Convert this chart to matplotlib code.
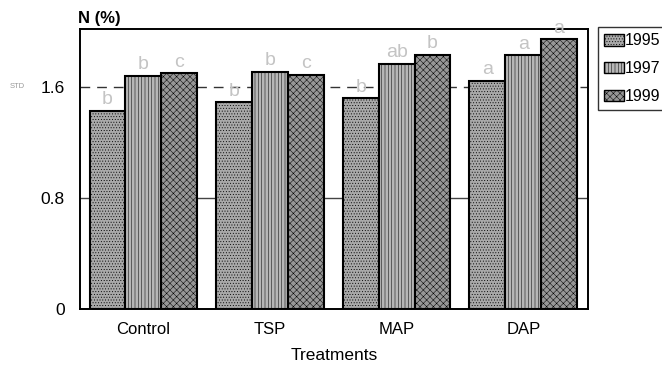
import matplotlib
matplotlib.use("Agg")
import matplotlib.pyplot as plt
import numpy as np
from matplotlib.patches import Patch

plt.rcParams['font.family'] = ['Liberation Sans', 'DejaVu Sans']
plt.rcParams['hatch.linewidth'] = 0.35

treatments = ["Control", "TSP", "MAP", "DAP"]
years = ["1995", "1997", "1999"]
n_1995 = [1.43, 1.49, 1.52, 1.645]
n_1997 = [1.68, 1.71, 1.77, 1.83]
n_1999 = [1.70, 1.69, 1.835, 1.945]
letters_1995 = ["b", "b", "b", "a"]
letters_1997 = ["b", "b", "ab", "a"]
letters_1999 = ["c", "c", "b", "a"]
std_level = 1.6
yticks = [0, 0.8, 1.6]
ytick_labels = ["0", "0.8", "1.6"]

series = [n_1995, n_1997, n_1999]
letters = [letters_1995, letters_1997, letters_1999]
faces = ["#a9a9a9", "#b6b6b6", "#979797"]
hatches = ["......", "|||||", "xxxxx"]

fig = plt.figure(figsize=(6.62, 3.67), dpi=100)
ax = fig.add_axes([0.1208, 0.158, 0.7672, 0.763])

x = np.arange(len(treatments))
width = 0.283
offsets = [-width, 0, width]

# reference lines behind the bars
ax.axhline(std_level, color="#333333", lw=1.0, ls=(0, (7, 5)), zorder=1)
ax.axhline(0.8, color="#444444", lw=1.0, zorder=1)

for vals, lets, off, fc, h in zip(series, letters, offsets, faces, hatches):
    ax.bar(x + off, vals, width, color=fc, edgecolor="black",
           linewidth=1.5, hatch=h, zorder=2)
    for xi, v, t in zip(x + off, vals, lets):
        ax.annotate(t, (xi, v), xytext=(0, 2), textcoords="offset points",
                    ha="center", va="bottom", fontsize=14, color="#c4c4c4",
                    annotation_clip=False, zorder=3)

ax.set_xlim(-0.5, 3.51)
ax.set_ylim(0, 2.02)
ax.set_yticks(yticks)
ax.set_yticklabels(ytick_labels, fontsize=12.5)
ax.set_xticks(x)
ax.set_xticklabels(treatments, fontsize=12)
ax.tick_params(axis="y", length=0, pad=11)
ax.tick_params(axis="x", length=0, pad=9)
for s in ax.spines.values():
    s.set_linewidth(1.4)

fig.text(0.5 * (80 + 588) / 662, 1 - 355 / 367, "Treatments", fontsize=12.5,
         ha="center", va="center")
fig.text(78 / 662, 1 - 18 / 367, "N (%)", fontsize=12, fontweight="bold",
         ha="left", va="center")
fig.text(17 / 662, 1 - 87 / 367, "STD", fontsize=5.5, color="#999999",
         ha="center", va="center")

handles = [Patch(facecolor=fc, edgecolor="black", hatch=h, linewidth=1.0)
           for fc, h in zip(faces, hatches)]
leg = fig.legend(handles, years, loc="upper left",
                 bbox_to_anchor=(598 / 662, 1 - 27 / 367), fontsize=11.5,
                 frameon=True, fancybox=False, edgecolor="black",
                 handlelength=1.2, handleheight=0.75, handletextpad=0.1,
                 borderpad=0.4, labelspacing=0.8, borderaxespad=0)
leg.get_frame().set_linewidth(1.0)

fig.savefig("out.png", dpi=100)
